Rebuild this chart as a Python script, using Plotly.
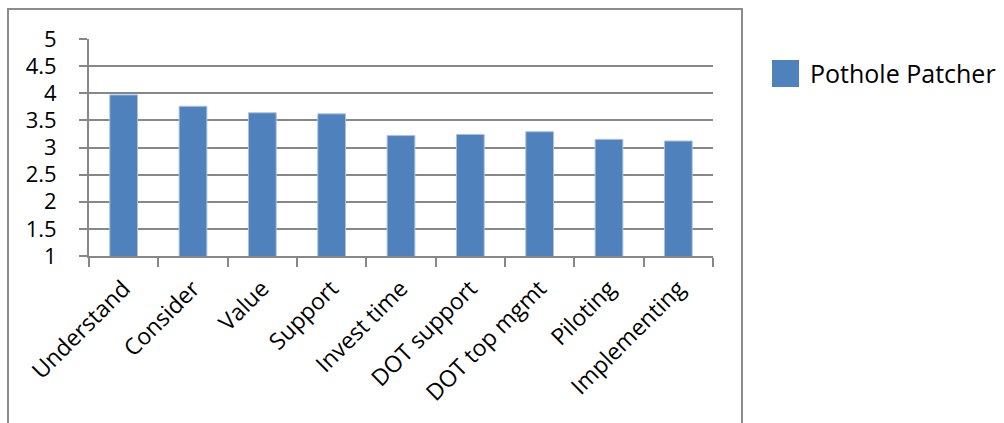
import plotly.graph_objects as go

categories = ["Understand", "Consider", "Value", "Support", "Invest time",
              "DOT support", "DOT top mgmt", "Piloting", "Implementing"]
values = [3.97, 3.76, 3.64, 3.62, 3.22, 3.24, 3.29, 3.15, 3.12]
series_name = "Pothole Patcher"
y_ticks = [1, 1.5, 2, 2.5, 3, 3.5, 4, 4.5, 5]

W, H = 1004, 423
L, R, T, B = 89, 713, 39, 256  # plot area in pixels
PW, PH = R - L, B - T

def px(x):
    return (x - L) / PW

def py(y):
    return (B - y) / PH

FONT = "Open Sans"
GRID = "#878787"
BAR = "#4f81bd"

fig = go.Figure()
fig.add_trace(go.Bar(
    x=categories, y=values, name=series_name,
    marker=dict(color=BAR, line=dict(color="#a9c1df", width=1)),
    showlegend=False,
))

fig.update_layout(
    width=W, height=H,
    margin=dict(l=L, r=W - R, t=T, b=H - B, pad=0),
    paper_bgcolor="white", plot_bgcolor="white",
    bargap=0.6,
    font=dict(family=FONT, size=22, color="black"),
    xaxis=dict(
        tickangle=-45, tickson="boundaries", ticks="outside", ticklen=9,
        tickcolor=GRID, tickwidth=2, showline=True, linecolor=GRID, linewidth=2,
        showgrid=False, ticklabelstandoff=8,
        tickfont=dict(family=FONT, size=23),
    ),
    yaxis=dict(
        range=[1, 5], tickvals=y_ticks, ticks="outside", ticklen=8,
        tickcolor=GRID, tickwidth=2, showline=True, linecolor=GRID, linewidth=2,
        showgrid=True, gridcolor=GRID, gridwidth=2, zeroline=False,
        ticklabelstandoff=18,
        tickfont=dict(family=FONT, size=22),
    ),
    shapes=[
        dict(type="rect", xref="paper", yref="paper",
             x0=px(8), x1=px(742), y0=py(445), y1=py(9),
             line=dict(color="#8c8c8c", width=2), fillcolor="rgba(0,0,0,0)"),
        dict(type="rect", xref="paper", yref="paper",
             x0=px(772), x1=px(799), y0=py(87), y1=py(60),
             line=dict(width=0), fillcolor=BAR),
    ],
    annotations=[
        dict(text=series_name, xref="paper", yref="paper",
             x=px(808), y=py(72.5), xanchor="left", yanchor="middle",
             showarrow=False, font=dict(family=FONT, size=25, color="black")),
    ],
)

fig.write_html("out.html")
